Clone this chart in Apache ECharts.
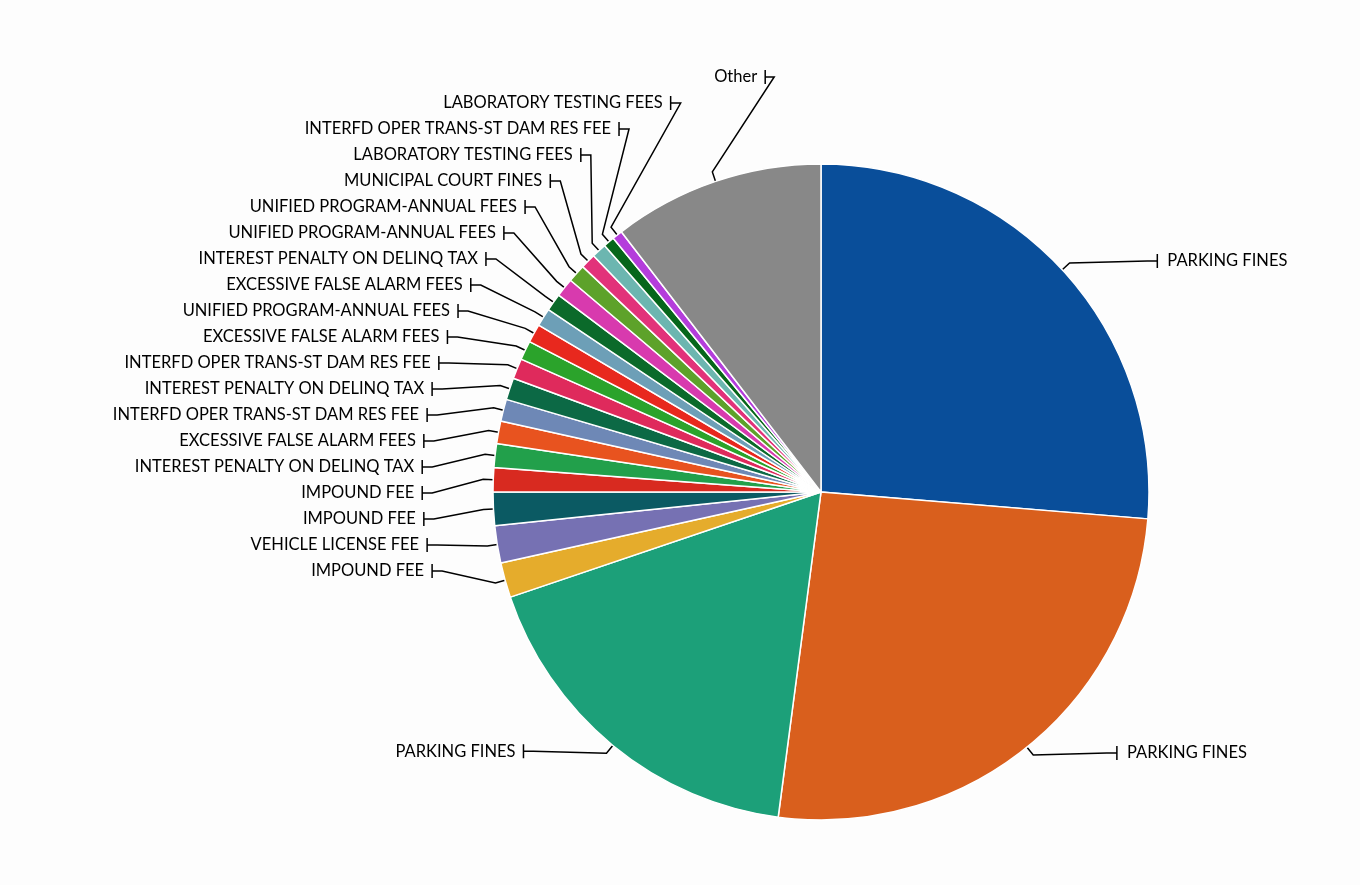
<!DOCTYPE html>
<html>
<head>
<meta charset="utf-8">
<script src="https://cdn.jsdelivr.net/npm/echarts@6/dist/echarts.min.js"></script>
<style>
  html, body { margin: 0; padding: 0; background: #fdfdfd; }
  #main { width: 1360px; height: 885px; }
</style>
</head>
<body>
<div id="main"></div>
<script>
// slices, clockwise from the top
const names = [
  "PARKING FINES", "PARKING FINES", "PARKING FINES",
  "IMPOUND FEE", "VEHICLE LICENSE FEE", "IMPOUND FEE", "IMPOUND FEE",
  "INTEREST PENALTY ON DELINQ TAX", "EXCESSIVE FALSE ALARM FEES",
  "INTERFD OPER TRANS-ST DAM RES FEE", "INTEREST PENALTY ON DELINQ TAX",
  "INTERFD OPER TRANS-ST DAM RES FEE", "EXCESSIVE FALSE ALARM FEES",
  "UNIFIED PROGRAM-ANNUAL FEES", "EXCESSIVE FALSE ALARM FEES",
  "INTEREST PENALTY ON DELINQ TAX", "UNIFIED PROGRAM-ANNUAL FEES",
  "UNIFIED PROGRAM-ANNUAL FEES", "MUNICIPAL COURT FINES",
  "LABORATORY TESTING FEES", "INTERFD OPER TRANS-ST DAM RES FEE",
  "LABORATORY TESTING FEES", "Other"
];
const values = [
  9470, 9280, 6380,
  620, 660, 590, 430,
  420, 400,
  390, 390,
  360, 340,
  330, 320,
  310, 330,
  320, 270,
  260, 200,
  180, 3750
];
const colors = [
  "#094e9a", "#d95f1d", "#1ca079",
  "#e5ac2c", "#7671b3", "#0b5a63", "#d82a20",
  "#22a04b", "#e8531f",
  "#6e88b6", "#0c6945",
  "#df2a5c", "#2ba32b",
  "#e8281e", "#6d9fb7",
  "#0b6a2a", "#d83aae",
  "#5da22a", "#e2327a",
  "#6cb6b0", "#06661a",
  "#b43ddb", "#888888"
];

const CX = 821, CY = 492, R = 328;
// labels sit on an ellipse round the pie
const LX = 821, LY = 480, LA = 399, LB = 407;
const ROW = 26, LEFT_BOTTOM = 571;
const RIGHT_SIDE = [0, 1];

const total = values.reduce((a, b) => a + b, 0);
const midAngles = [];
let acc = 0;
values.forEach((v) => {
  midAngles.push(((acc + v / 2) / total) * Math.PI * 2);
  acc += v;
});

function onCircle(a, r) {
  return [CX + r * Math.sin(a), CY - r * Math.cos(a)];
}
function tickX(y, side) {
  const t = (y - LY) / LB;
  return LX + side * LA * Math.sqrt(Math.max(0, 1 - t * t));
}

function layoutLabel(params) {
  const i = params.dataIndex;
  const a = midAngles[i];
  const p0 = onCircle(a, R);
  const p1 = onCircle(a, R + 10);
  const side = RIGHT_SIDE.indexOf(i) >= 0 ? 1 : -1;
  let y;
  if (i <= 2) {
    y = p1[1] - 2;
  } else {
    y = LEFT_BOTTOM - ROW * (i - 3);
  }
  const tx = tickX(y, side);
  const stub = i === 22 ? 9 : 10;
  const points = [
    p0, p1,
    [tx - side * stub, y],
    [tx, y],
    [tx, y - 7],
    [tx, y + 7]
  ];
  return {
    x: tx + side * (side > 0 ? 10 : 8),
    y: y,
    align: side > 0 ? "left" : "right",
    verticalAlign: "middle",
    labelLinePoints: points
  };
}

const chart = echarts.init(document.getElementById("main"));
chart.setOption({
  animation: false,
  backgroundColor: "#fdfdfd",
  series: [
    {
      type: "pie",
      center: [CX, CY],
      radius: R,
      startAngle: 90,
      clockwise: true,
      avoidLabelOverlap: false,
      data: names.map((n, i) => ({
        name: n,
        value: values[i],
        itemStyle: { color: colors[i] }
      })),
      itemStyle: { borderColor: "#ffffff", borderWidth: 1.5 },
      label: {
        show: true,
        formatter: "{b}",
        fontFamily: "Lato",
        fontSize: 16.5,
        color: "#000000"
      },
      labelLine: {
        show: true,
        length: 10,
        length2: 10,
        smooth: false,
        lineStyle: { color: "#000000", width: 1.5 }
      },
      labelLayout: layoutLabel,
      emphasis: { disabled: true }
    }
  ]
});
</script>
</body>
</html>
